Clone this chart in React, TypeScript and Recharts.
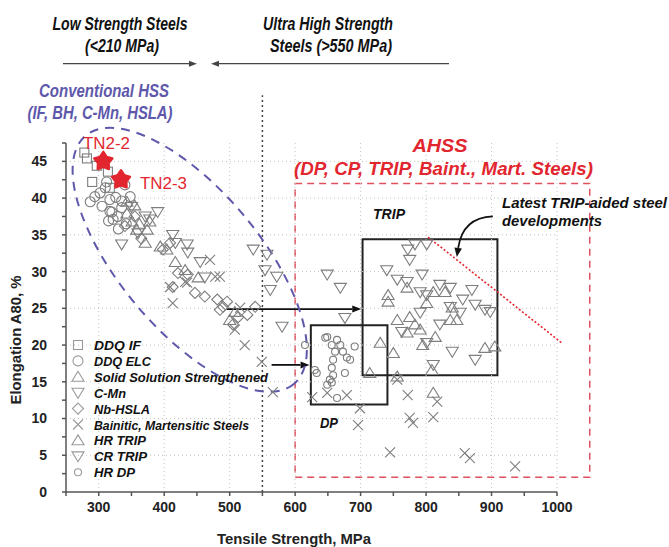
import React from 'react';
import {
  ScatterChart,
  Scatter,
  XAxis,
  YAxis,
  ReferenceLine,
  ReferenceArea,
  ReferenceDot,
  Legend,
} from 'recharts';

// ---------- axes ----------
const xTicks = [250, 300, 350, 400, 450, 500, 550, 600, 650, 700, 750, 800, 850, 900, 950, 1000];
const yTicks = [0, 2.5, 5, 7.5, 10, 12.5, 15, 17.5, 20, 22.5, 25, 27.5, 30, 32.5, 35, 37.5, 40, 42.5, 45, 47.5];
const gridX = [300, 400, 500, 600, 700, 800, 900, 1000];
const gridY = [5, 10, 15, 20, 25, 30, 35, 40, 45];

// ---------- series ----------
const ddqIF = [
  { x: 278, y: 46.2 }, { x: 282, y: 45.4 }, { x: 297, y: 44.4 }, { x: 290, y: 42.2 },
  { x: 314, y: 43.6 }, { x: 317, y: 41.4 },
];
const ddqELC = [
  { x: 287, y: 39.5 }, { x: 294, y: 40.2 }, { x: 302, y: 40.7 }, { x: 310, y: 41.4 },
  { x: 317, y: 39.8 }, { x: 320, y: 38.1 }, { x: 322, y: 37.1 }, { x: 329, y: 37.5 },
  { x: 335, y: 38.7 }, { x: 340, y: 41.8 }, { x: 348, y: 40.2 }, { x: 326, y: 40.1 },
  { x: 335, y: 39.6 }, { x: 312, y: 42.2 }, { x: 305, y: 38.9 }, { x: 317, y: 38.2 },
  { x: 330, y: 35.8 }, { x: 342, y: 36.5 }, { x: 315, y: 36.9 },
];
const solidSolution = [
  { x: 343, y: 39.5 }, { x: 351, y: 36.8 }, { x: 358, y: 35.7 }, { x: 374, y: 35.7 },
  { x: 378, y: 36.8 }, { x: 371, y: 33.9 }, { x: 394, y: 33.4 }, { x: 404, y: 33.0 },
  { x: 417, y: 31.3 }, { x: 432, y: 30.2 }, { x: 452, y: 29.2 }, { x: 500, y: 23.4 },
  { x: 508, y: 24.5 }, { x: 343, y: 37.9 }, { x: 355, y: 39.0 }, { x: 362, y: 36.5 },
];
const cMn = [
  { x: 371, y: 37.5 }, { x: 390, y: 38.1 }, { x: 378, y: 37.1 }, { x: 335, y: 33.7 },
  { x: 413, y: 35.0 }, { x: 417, y: 33.9 }, { x: 435, y: 33.7 }, { x: 436, y: 32.6 },
  { x: 455, y: 31.3 }, { x: 462, y: 29.2 }, { x: 536, y: 33.0 }, { x: 557, y: 32.3 },
  { x: 554, y: 30.2 }, { x: 572, y: 29.3 }, { x: 562, y: 27.5 }, { x: 580, y: 22.5 },
  { x: 350, y: 38.8 }, { x: 360, y: 35.2 },
];
const nbHSLA = [
  { x: 398, y: 33.0 }, { x: 409, y: 33.9 }, { x: 421, y: 29.8 }, { x: 413, y: 27.9 },
  { x: 436, y: 29.6 }, { x: 447, y: 27.1 }, { x: 462, y: 26.6 }, { x: 481, y: 26.2 },
  { x: 490, y: 25.2 }, { x: 485, y: 24.8 }, { x: 496, y: 25.9 }, { x: 513, y: 23.8 },
  { x: 527, y: 24.1 }, { x: 539, y: 25.2 }, { x: 505, y: 22.8 }, { x: 355, y: 37.5 },
  { x: 365, y: 34.5 }, { x: 340, y: 36.2 },
];
const bainitic = [
  { x: 470, y: 31.6 }, { x: 478, y: 29.3 }, { x: 435, y: 28.5 }, { x: 413, y: 25.7 },
  { x: 409, y: 27.9 }, { x: 485, y: 29.3 }, { x: 432, y: 28.6 }, { x: 516, y: 25.1 },
  { x: 508, y: 22.1 }, { x: 523, y: 20.0 }, { x: 549, y: 17.7 }, { x: 566, y: 13.6 },
  { x: 626, y: 12.9 }, { x: 649, y: 13.5 }, { x: 679, y: 13.2 }, { x: 699, y: 11.4 },
  { x: 696, y: 9.1 }, { x: 756, y: 15.3 }, { x: 772, y: 13.2 }, { x: 775, y: 10.1 },
  { x: 780, y: 9.4 }, { x: 811, y: 10.2 }, { x: 817, y: 12.3 }, { x: 745, y: 5.4 },
  { x: 859, y: 5.3 }, { x: 867, y: 4.6 }, { x: 936, y: 3.5 },
];
const hrTRIP = [
  { x: 742, y: 26.8 }, { x: 742, y: 25.9 }, { x: 771, y: 27.8 }, { x: 756, y: 23.4 },
  { x: 775, y: 23.8 }, { x: 783, y: 22.8 }, { x: 791, y: 22.1 }, { x: 771, y: 21.7 },
  { x: 801, y: 25.7 }, { x: 811, y: 27.2 }, { x: 829, y: 27.2 }, { x: 840, y: 25.1 },
  { x: 837, y: 23.4 }, { x: 847, y: 23.4 }, { x: 890, y: 19.6 }, { x: 905, y: 19.8 },
  { x: 730, y: 20.3 }, { x: 750, y: 18.9 }, { x: 714, y: 16.2 }, { x: 756, y: 15.7 },
  { x: 811, y: 13.5 }, { x: 795, y: 20.0 }, { x: 814, y: 21.1 }, { x: 809, y: 16.6 },
];
const crTRIP = [
  { x: 649, y: 29.6 }, { x: 669, y: 27.8 }, { x: 676, y: 23.7 }, { x: 740, y: 30.2 },
  { x: 772, y: 33.0 }, { x: 783, y: 33.7 }, { x: 801, y: 33.7 }, { x: 775, y: 31.6 },
  { x: 756, y: 28.9 }, { x: 771, y: 28.6 }, { x: 794, y: 29.6 }, { x: 791, y: 27.2 },
  { x: 801, y: 26.8 }, { x: 821, y: 28.2 }, { x: 837, y: 27.8 }, { x: 856, y: 26.2 },
  { x: 870, y: 27.5 }, { x: 875, y: 25.5 }, { x: 890, y: 24.8 }, { x: 898, y: 24.5 },
  { x: 837, y: 25.2 }, { x: 821, y: 22.8 }, { x: 840, y: 19.1 }, { x: 875, y: 18.0 },
  { x: 811, y: 17.3 }, { x: 801, y: 20.3 }, { x: 791, y: 24.4 }, { x: 763, y: 21.8 },
  { x: 852, y: 24.4 },
];
const hrDP = [
  { x: 615, y: 20.0 }, { x: 630, y: 16.6 }, { x: 633, y: 16.2 }, { x: 646, y: 21.0 },
  { x: 649, y: 21.1 }, { x: 656, y: 20.0 }, { x: 661, y: 19.1 }, { x: 664, y: 20.7 },
  { x: 669, y: 20.0 }, { x: 673, y: 19.1 }, { x: 679, y: 18.3 }, { x: 684, y: 18.0 },
  { x: 658, y: 18.0 }, { x: 656, y: 16.9 }, { x: 658, y: 15.9 }, { x: 656, y: 14.9 },
  { x: 676, y: 16.2 }, { x: 691, y: 19.8 }, { x: 664, y: 12.8 }, { x: 649, y: 14.6 },
  { x: 653, y: 15.3 },
];
const tn22 = [{ x: 307, y: 45.0 }];
const tn23 = [{ x: 334, y: 42.5 }];

// ---------- annotations (data coords) ----------
const ellipseCenter = { x: 439, y: 31.6 };
const ahssBox = { x1: 600, x2: 1050, y1: 2, y2: 42 };
const dpBox = { x1: 624, x2: 741, y1: 11.9, y2: 22.7 };
const tripBox = { x1: 703, x2: 909, y1: 15.9, y2: 34.4 };
const arrowToTrip = [{ x: 495, y: 24.9 }, { x: 701, y: 24.9 }];
const arrowToDP = [{ x: 564, y: 17.3 }, { x: 622, y: 17.3 }];
const tripTrend = [{ x: 803, y: 34.7 }, { x: 1007, y: 20.3 }];
const curvedArrow = [{ x: 902, y: 37.5 }, { x: 847, y: 32.0 }];
const divider = [{ x: 550, y: 0 }, { x: 550, y: 54 }];
const headerArrowRight = [{ x: 245.4, y: 58.3 }, { x: 450, y: 58.3 }];
const headerArrowLeft = [{ x: 835, y: 58.3 }, { x: 471.5, y: 58.3 }];

const GRAY = '#7e7e7e';
const RED = '#e2262f';
const PURPLE = '#5e58ab';

type Kind = 'square' | 'circle' | 'up' | 'down' | 'diamond' | 'x' | 'dot';

const Marker = ({ cx, cy, kind, size, stroke = GRAY }: any) => {
  if (cx == null || cy == null) return null;
  const s = size / 2;
  const common = { fill: 'none', stroke, strokeWidth: 1.1 };
  switch (kind as Kind) {
    case 'square':
      return <rect x={cx - s} y={cy - s} width={size} height={size} {...common} />;
    case 'circle':
    case 'dot':
      return <circle cx={cx} cy={cy} r={s} {...common} />;
    case 'up':
      return <path d={`M${cx},${cy - s} L${cx + s * 1.1},${cy + s * 0.8} L${cx - s * 1.1},${cy + s * 0.8} Z`} {...common} />;
    case 'down':
      return <path d={`M${cx},${cy + s} L${cx + s * 1.1},${cy - s * 0.8} L${cx - s * 1.1},${cy - s * 0.8} Z`} {...common} />;
    case 'diamond':
      return <path d={`M${cx},${cy - s} L${cx + s},${cy} L${cx},${cy + s} L${cx - s},${cy} Z`} {...common} />;
    case 'x':
      return <path d={`M${cx - s},${cy - s} L${cx + s},${cy + s} M${cx + s},${cy - s} L${cx - s},${cy + s}`} {...common} />;
  }
  return null;
};

const Star = ({ cx, cy }: any) => {
  if (cx == null) return null;
  const pts: string[] = [];
  for (let i = 0; i < 10; i++) {
    const r = i % 2 === 0 ? 9.5 : 5.6;
    const a = -Math.PI / 2 + (i * Math.PI) / 5;
    pts.push(`${cx + r * Math.cos(a)},${cy + r * Math.sin(a)}`);
  }
  return <polygon points={pts.join(' ')} fill={RED} stroke={RED} strokeWidth={2.4} strokeLinejoin="round" />;
};

const series = [
  { name: 'DDQ IF', data: ddqIF, kind: 'square', size: 9, w: 47 },
  { name: 'DDQ ELC', data: ddqELC, kind: 'circle', size: 10, w: 57 },
  { name: 'Solid Solution Strengthened', data: solidSolution, kind: 'up', size: 11, w: 174 },
  { name: 'C-Mn', data: cMn, kind: 'down', size: 11, w: 32 },
  { name: 'Nb-HSLA', data: nbHSLA, kind: 'diamond', size: 11, w: 56 },
  { name: 'Bainitic, Martensitic Steels', data: bainitic, kind: 'x', size: 10, w: 155 },
  { name: 'HR TRIP', data: hrTRIP, kind: 'up', size: 11, w: 52 },
  { name: 'CR TRIP', data: crTRIP, kind: 'down', size: 11, w: 53 },
  { name: 'HR DP', data: hrDP, kind: 'dot', size: 7, w: 41 },
];

const arrowHead = (x1: number, y1: number, x2: number, y2: number, len = 8, half = 3.2) => {
  const a = Math.atan2(y2 - y1, x2 - x1);
  const bx = x2 - len * Math.cos(a);
  const by = y2 - len * Math.sin(a);
  const px = -Math.sin(a) * half;
  const py = Math.cos(a) * half;
  return { bx, by, pts: `${x2},${y2} ${bx + px},${by + py} ${bx - px},${by - py}` };
};

const ArrowShape = (color: string, width: number, len = 9, half = 3.5) => (p: any) => {
  const { x1, y1, x2, y2 } = p;
  if (x1 == null) return null;
  const h = arrowHead(x1, y1, x2, y2, len, half);
  return (
    <g>
      <line x1={x1} y1={y1} x2={h.bx} y2={h.by} stroke={color} strokeWidth={width} />
      <polygon points={h.pts} fill={color} />
    </g>
  );
};

const CurvedArrowShape = (p: any) => {
  const { x1, y1, x2, y2 } = p;
  if (x1 == null) return null;
  const cx = x2 + 6;
  const cy = y1 + 1;
  const h = arrowHead(cx, cy, x2, y2, 9, 3.8);
  return (
    <g>
      <path d={`M${x1},${y1} Q${cx},${cy} ${h.bx},${h.by}`} fill="none" stroke="#111" strokeWidth={1.8} />
      <polygon points={h.pts} fill="#111" />
    </g>
  );
};

const EllipseShape = (p: any) => {
  const { cx, cy } = p;
  if (cx == null) return null;
  return (
    <ellipse
      cx={cx}
      cy={cy}
      rx={162}
      ry={70}
      transform={`rotate(50 ${cx} ${cy})`}
      fill="none"
      stroke={PURPLE}
      strokeWidth={2}
      strokeDasharray="9 7"
    />
  );
};

const T = ({ x, y, w, size, fill = '#111', bold = true, italic = true, anchor = 'middle', children, transform }: any) => (
  <text
    x={x}
    y={y}
    fontSize={size}
    fill={fill}
    fontWeight={bold ? 700 : 400}
    fontStyle={italic ? 'italic' : 'normal'}
    fontFamily="'Liberation Sans', Arial, sans-serif"
    textAnchor={anchor}
    textLength={w}
    lengthAdjust="spacingAndGlyphs"
    transform={transform}
  >
    {children}
  </text>
);

const LegendContent = () => (
  <svg width={210} height={150} style={{ overflow: 'visible', display: 'block' }}>
    {series.map((s, i) => {
      const cy = 9 + i * 15.9;
      return (
        <g key={s.name}>
          <Marker cx={8} cy={cy} kind={s.kind} size={s.size} stroke="#9a9a9a" />
          <T x={24} y={cy + 5} w={s.w} size={13.5} anchor="start">
            {s.name}
          </T>
        </g>
      );
    })}
  </svg>
);

const tickStyle = {
  fill: '#222',
  fontSize: 14,
  fontWeight: 700,
  fontFamily: "'Liberation Sans', Arial, sans-serif",
};

export default function App() {
  return (
    <div style={{ position: 'absolute', left: 0, top: 0, width: 669, height: 547, background: '#fff' }}>
      <ScatterChart width={669} height={547} margin={{ top: 143, right: 112, bottom: 25, left: 6 }}>
        <XAxis
          type="number"
          dataKey="x"
          domain={[250, 1000]}
          ticks={xTicks}
          tickFormatter={(v: number) => (v % 100 === 0 ? String(v) : '')}
          allowDataOverflow
          stroke="#555"
          strokeWidth={1.5}
          tick={tickStyle}
          tickSize={4}
          tickMargin={6}
          height={30}
        />
        <YAxis
          type="number"
          dataKey="y"
          domain={[0, 47.5]}
          ticks={yTicks}
          tickFormatter={(v: number) => (v % 5 === 0 ? String(v) : '')}
          allowDataOverflow
          stroke="#555"
          strokeWidth={1.5}
          tick={tickStyle}
          tickSize={4}
          tickMargin={15}
          width={60}
        />
        {gridX.map((v) => (
          <ReferenceLine key={'gx' + v} x={v} stroke="#c4c4c4" strokeDasharray="1 3" strokeWidth={1} />
        ))}
        {gridY.map((v) => (
          <ReferenceLine key={'gy' + v} y={v} stroke="#c4c4c4" strokeDasharray="1 3" strokeWidth={1} />
        ))}
        <ReferenceLine segment={divider} ifOverflow="visible" stroke="#444" strokeWidth={1.5} strokeDasharray="2 3" />
        <ReferenceLine segment={headerArrowRight} ifOverflow="visible" shape={ArrowShape('#444', 1.3, 8, 3)} />
        <ReferenceLine segment={headerArrowLeft} ifOverflow="visible" shape={ArrowShape('#444', 1.3, 8, 3)} />
        <ReferenceArea
          x1={ahssBox.x1}
          x2={ahssBox.x2}
          y1={ahssBox.y1}
          y2={ahssBox.y2}
          ifOverflow="visible"
          fill="none"
          fillOpacity={0}
          stroke="#e0505e"
          strokeWidth={1.5}
          strokeDasharray="7 5"
        />
        <ReferenceDot x={ellipseCenter.x} y={ellipseCenter.y} ifOverflow="visible" shape={EllipseShape} />
        {series.map((s) => (
          <Scatter
            key={s.name}
            name={s.name}
            data={s.data}
            isAnimationActive={false}
            shape={(p: any) => <Marker cx={p.cx} cy={p.cy} kind={s.kind} size={s.size} />}
          />
        ))}
        <ReferenceArea
          x1={dpBox.x1}
          x2={dpBox.x2}
          y1={dpBox.y1}
          y2={dpBox.y2}
          fill="none"
          fillOpacity={0}
          stroke="#222"
          strokeWidth={2}
        />
        <ReferenceArea
          x1={tripBox.x1}
          x2={tripBox.x2}
          y1={tripBox.y1}
          y2={tripBox.y2}
          fill="none"
          fillOpacity={0}
          stroke="#222"
          strokeWidth={2}
        />
        <ReferenceLine segment={arrowToTrip} ifOverflow="visible" shape={ArrowShape('#111', 1.8)} />
        <ReferenceLine segment={arrowToDP} ifOverflow="visible" shape={ArrowShape('#111', 1.8)} />
        <ReferenceLine segment={tripTrend} ifOverflow="visible" stroke={RED} strokeWidth={1.6} strokeDasharray="2 2" />
        <ReferenceLine segment={curvedArrow} ifOverflow="visible" shape={CurvedArrowShape} />
        <Scatter name="TN2-2" data={tn22} isAnimationActive={false} shape={Star} legendType="none" />
        <Scatter name="TN2-3" data={tn23} isAnimationActive={false} shape={Star} legendType="none" />
        <Legend
          layout="horizontal"
          verticalAlign="middle"
          align="center"
          content={LegendContent}
          wrapperStyle={{ position: 'absolute', left: 70, top: 336, width: 210, height: 150, margin: 0 }}
        />
      </ScatterChart>
      <svg
        width={669}
        height={547}
        style={{ position: 'absolute', left: 0, top: 0, pointerEvents: 'none', overflow: 'visible' }}
      >
        <T x={120} y={30} w={135} size={18}>Low Strength Steels</T>
        <T x={122} y={52} w={74} size={18}>(&lt;210 MPa)</T>
        <T x={328} y={30} w={130} size={18}>Ultra High Strength</T>
        <T x={331} y={52} w={122} size={18}>Steels (&gt;550 MPa)</T>
        <T x={104} y={97} w={130} size={18} fill={PURPLE}>Conventional HSS</T>
        <T x={100} y={119} w={145} size={18} fill={PURPLE}>(IF, BH, C-Mn, HSLA)</T>
        <T x={440} y={152} w={55} size={19} fill={RED}>AHSS</T>
        <T x={443.5} y={175} w={299} size={19} fill={RED}>(DP, CP, TRIP, Baint., Mart. Steels)</T>
        <T x={389} y={219} w={32} size={14}>TRIP</T>
        <T x={502} y={208} w={165} size={14} anchor="start">Latest TRIP-aided steel</T>
        <T x={502} y={226} w={100} size={14} anchor="start">developments</T>
        <T x={329} y={428} w={18} size={14}>DP</T>
        <T x={106.5} y={149} w={47} size={16} fill={RED} bold={false} italic={false}>TN2-2</T>
        <T x={163.5} y={189} w={47} size={16} fill={RED} bold={false} italic={false}>TN2-3</T>
        <T x={294} y={544} w={154} size={14} fill="#222" italic={false}>Tensile Strength, MPa</T>
        <T x={0} y={0} w={129} size={14} fill="#222" italic={false} transform="translate(21 340) rotate(-90)">
          Elongation A80, %
        </T>
      </svg>
    </div>
  );
}
